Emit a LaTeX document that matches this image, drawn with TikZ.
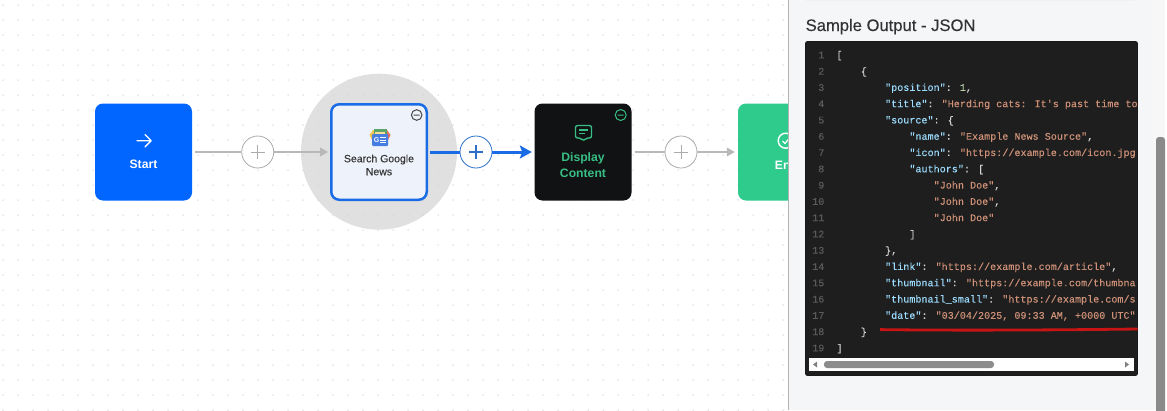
\documentclass[tikz,border=0pt]{standalone}
\usepackage{fontspec}
\usetikzlibrary{arrows.meta}
\setmainfont{Liberation Sans}
\newfontfamily\medfont[FakeBold=0.25]{Liberation Sans}
\newfontfamily\codefont[FakeBold=0.12]{Liberation Mono}
\definecolor{keyc}{HTML}{9CDCFE}
\definecolor{strc}{HTML}{CE9178}
\definecolor{numc}{HTML}{B5CEA8}
\definecolor{punc}{HTML}{D4D4D4}
\definecolor{lnc}{HTML}{5A5A5A}
\definecolor{codebg}{HTML}{1E1E1E}
\definecolor{wfgray}{HTML}{B8B8B8}
\definecolor{plusgray}{HTML}{ABABAB}
\definecolor{wfblue}{HTML}{1A6CE6}
\definecolor{plusblue}{HTML}{2D6FC8}
\definecolor{startblue}{HTML}{0066FF}
\definecolor{endgreen}{HTML}{2ECB8D}
\definecolor{dispgreen}{HTML}{38BE84}
\definecolor{panelbg}{HTML}{F5F6F8}
\definecolor{searchbg}{HTML}{EEF2FB}
\definecolor{dispbg}{HTML}{111213}
\definecolor{newsblue}{HTML}{467DE1}
\definecolor{newsgreen}{HTML}{5AA469}
\definecolor{newsyellow}{HTML}{F2C64E}
\definecolor{newsred}{HTML}{E0705A}
\definecolor{underline}{HTML}{C81414}
\newcommand\jk[1]{\textcolor{keyc}{#1}}
\newcommand\jv[1]{\textcolor{strc}{#1}}
\newcommand\codeline[3]{%
  \node[lnum] (ln#1) at (824.5,{58.3+(#1-1)*16.28}) {#1};
  \node[cline] (cl#1) at ({836.3+#2*24.3},{58.3+(#1-1)*16.28}) {#3};
}
\tikzset{
  wfnode/.style={rounded corners=8pt,minimum width=97pt,minimum height=97pt,inner sep=0pt},
  plusc/.style={circle,minimum size=32pt,inner sep=0pt,fill=white,draw=#1,line width=0.8pt},
  plusbar/.style={line width=1pt},
  graywire/.style={draw=wfgray,line width=1.9pt},
  bluewire/.style={draw=wfblue,line width=3pt},
  grayhead/.style={-{Triangle[length=8pt,width=8.5pt]}},
  bluehead/.style={-{Stealth[length=12pt,width=13pt,inset=2.5pt]}},
  wflabel/.style={align=center,inner sep=0pt},
  lnum/.style={anchor=base east,inner sep=0pt,text=lnc,font=\codefont\fontsize{10.1}{12}\selectfont},
  cline/.style={anchor=base west,inner sep=0pt,text=punc,font=\codefont\fontsize{10.1}{12}\selectfont},
}
\begin{document}
\begin{tikzpicture}[x=1pt,y=-1pt]
\useasboundingbox (0,0) rectangle (1167,410);
\fill[white] (0,0) rectangle (1167,410);
% halo
\fill[black!12] (379,151.7) circle (78);
% dot grid
\foreach \i in {0,...,52}{\foreach \j in {0,...,27}{
  \fill[black!17] ({3+15*\i},{5+15*\j}) circle (0.75);
}}
% nodes
\node[wfnode,fill=startblue] (start) at (143.5,152) {};
\node[wfnode,fill=searchbg,draw=wfblue,line width=2.5pt,minimum width=95.5pt,minimum height=95.5pt] (search) at (379,152) {};
\node[wfnode,fill=dispbg] (display) at (583,152) {};
\node[wfnode,fill=endgreen] (endn) at (786.5,152) {};
\node[plusc=plusgray] (plusa) at (257.7,152) {};
\node[plusc=plusblue] (plusb) at (476,152) {};
\node[plusc=plusgray] (plusc) at (681,152) {};
% connectors
\draw[graywire,shorten <=3pt] (start.east) -- (plusa.west);
\draw[graywire,grayhead,shorten >=2pt] (plusa.east) -- (search.west);
\draw[bluewire,shorten <=2pt] (search.east) -- (plusb.west);
\draw[bluewire,bluehead,shorten >=2.5pt] (plusb.east) -- (display.west);
\draw[graywire,shorten <=3pt] (display.east) -- (plusc.west);
\draw[graywire,grayhead,shorten >=3pt] (plusc.east) -- (endn.west);
% plus signs
\draw[plusbar,plusgray] (250.5,152) -- (264.9,152) (257.7,144.8) -- (257.7,159.2);
\draw[plusbar,plusblue,line width=1.3pt] (468.8,152) -- (483.2,152) (476,144.8) -- (476,159.2);
\draw[plusbar,plusgray] (673.8,152) -- (688.2,152) (681,144.8) -- (681,159.2);
% start icon
\draw[white,line width=1.4pt,line cap=round,line join=round] (137,140.7) -- (151,140.7) (145,134.5) -- (151.2,140.7) -- (145,146.9);
\node[wflabel,text=white,font=\bfseries\fontsize{12.2}{14}\selectfont] (startlab) at (143.5,164.7) {Start};
% search icon
\fill[newsyellow] (369.5,135) -- (373,130) -- (378,130) -- (378,140) -- (372,140) -- cycle;
\fill[newsred] (390.5,135) -- (387,130) -- (382,130) -- (382,140) -- (388,140) -- cycle;
\fill[newsgreen] (373.5,128.5) rectangle (386.5,134);
\fill[newsyellow!60!white] (375,131.5) rectangle (385,135);
\fill[newsblue,rounded corners=1pt] (372,134) rectangle (388,146);
\node[inner sep=0pt,text=white,font=\bfseries\fontsize{7}{8}\selectfont] (gmark) at (376.5,140) {G};
\draw[white,line width=0.9pt] (380,137.8) -- (385.5,137.8) (380,140) -- (385.5,140) (380,142.2) -- (385.5,142.2);
\node[wflabel,text=black!78,font=\medfont\fontsize{10.5}{13}\selectfont] (searchlab) at (379,165) {Search Google\\News};
\draw[black!72,line width=1pt] (416.7,115) circle (5.3) (413.7,115) -- (419.7,115);
% display icon
\draw[dispgreen,line width=1.4pt,rounded corners=2pt,line join=round] (575.5,125.5) -- (591.5,125.5) -- (591.5,138) -- (586,138) -- (583.5,141) -- (581,138) -- (575.5,138) -- cycle;
\draw[dispgreen,line width=1.2pt] (579,130) -- (588,130) (579,133.7) -- (585,133.7);
\draw[dispgreen,line width=1pt] (620.7,115) circle (5.5) (617.7,115) -- (623.7,115);
\node[wflabel,text=dispgreen,font=\bfseries\fontsize{12.2}{16}\selectfont] (displab) at (583,164.7) {Display\\Content};
% end icon
\draw[white,line width=1.4pt] (785.7,140.7) circle (7.5);
\draw[white,line width=1.2pt] (782.5,141) -- (785,143.5) -- (789,138.5);
\node[wflabel,text=white,font=\bfseries\fontsize{12.2}{14}\selectfont] (endlab) at (786.5,164.7) {End};
% panel
\fill[panelbg] (788,0) rectangle (1153,410);
\fill[black!3] (1153,0) rectangle (1167,410);
\fill[white] (1165,0) rectangle (1167,410);
\draw[black!30,line width=1pt] (788,0) -- (788,410);
\fill[black!6] (806,0) rectangle (1135,1);
\fill[black!46,rounded corners=3pt] (1156,137) rectangle (1165,414);
\node[anchor=base west,inner sep=0pt,text=black!80,font=\medfont\fontsize{16.6}{20}\selectfont] (paneltitle) at (805.5,31) {Sample Output - JSON};
% code box
\fill[codebg,draw=black!90,line width=0.8pt,rounded corners=2pt] (805.5,41.5) rectangle (1137.5,375.5);
\codeline{1}{0}{[}
\codeline{2}{1}{\{}
\codeline{3}{2}{\jk{"position"}: \textcolor{numc}{1},}
\codeline{4}{2}{\jk{"title"}: \jv{"Herding cats: It's past time to}}
\codeline{5}{2}{\jk{"source"}: \{}
\codeline{6}{3}{\jk{"name"}: \jv{"Example News Source"},}
\codeline{7}{3}{\jk{"icon"}: \jv{"https://example.com/icon.jpg}}
\codeline{8}{3}{\jk{"authors"}: [}
\codeline{9}{4}{\jv{"John Doe"},}
\codeline{10}{4}{\jv{"John Doe"},}
\codeline{11}{4}{\jv{"John Doe"}}
\codeline{12}{3}{]}
\codeline{13}{2}{\},}
\codeline{14}{2}{\jk{"link"}: \jv{"https://example.com/article"},}
\codeline{15}{2}{\jk{"thumbnail"}: \jv{"https://example.com/thumbna}}
\codeline{16}{2}{\jk{"thumbnail\_small"}: \jv{"https://example.com/s}}
\codeline{17}{2}{\jk{"date"}: \jv{"03/04/2025, 09:33 AM, +0000 UTC"}}
\codeline{18}{1}{\}}
\codeline{19}{0}{]}
% code scrollbar
\fill[white] (809,358) rectangle (1134,371);
\fill[black!45,rounded corners=3pt] (824,361) rectangle (994,368);
\fill[black!50] (813,364.5) -- (817,361.5) -- (817,367.5) -- cycle;
\fill[black!50] (1129,364.5) -- (1125,361.5) -- (1125,367.5) -- cycle;
% red underline
\draw[underline,line width=2.8pt] (880,329.6) .. controls (960,330.6) and (1060,330) .. (1137.5,329);
\end{tikzpicture}
\end{document}
